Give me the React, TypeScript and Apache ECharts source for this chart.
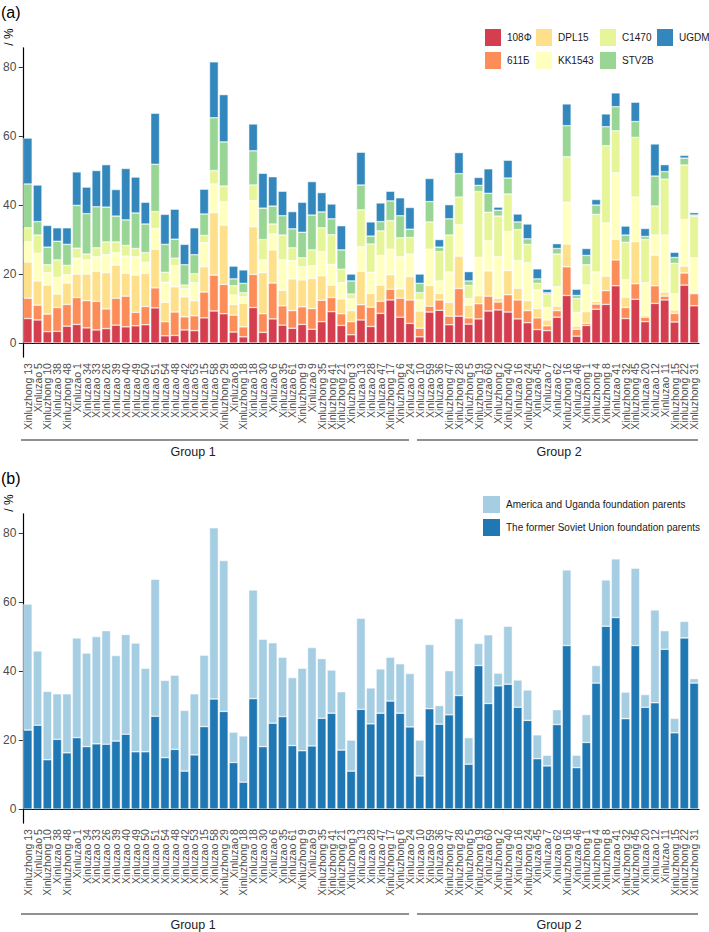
import React, { useEffect, useRef } from "react";
import * as echarts from "echarts";

const categories = [
  "Xinluzhong 13", "Xinluzao 5", "Xinluzhong 10", "Xinluzao 38", "Xinluzhong 48", "Xinluzao 1", "Xinluzao 34", "Xinluzao 33", "Xinluzao 26", "Xinluzao 39",
  "Xinluzao 40", "Xinluzao 49", "Xinluzao 50", "Xinluzao 51", "Xinluzao 54", "Xinluzao 48", "Xinluzao 42", "Xinluzao 53", "Xinluzao 15", "Xinluzao 58",
  "Xinluzhong 29", "Xinluzao 8", "Xinluzhong 18", "Xinluzao 18", "Xinluzao 30", "Xinluzao 6", "Xinluzao 35", "Xinluzao 61", "Xinluzhong 9", "Xinluzao 9",
  "Xinluzhong 35", "Xinluzhong 41", "Xinluzhong 21", "Xinluzhong 3", "Xinluzao 13", "Xinluzao 28", "Xinluzao 47", "Xinluzhong 17", "Xinluzhong 6", "Xinluzao 24",
  "Xinluzao 10", "Xinluzao 59", "Xinluzao 36", "Xinluzhong 47", "Xinluzhong 28", "Xinluzhong 5", "Xinluzhong 19", "Xinluzao 60", "Xinluzhong 2", "Xinluzhong 40",
  "Xinluzao 16", "Xinluzhong 24", "Xinluzao 45", "Xinluzao 7", "Xinluzao 62", "Xinluzhong 16", "Xinluzao 46", "Xinluzhong 1", "Xinluzhong 4", "Xinluzhong 8",
  "Xinluzao 41", "Xinluzhong 32", "Xinluzhong 45", "Xinluzao 20", "Xinluzao 12", "Xinluzao 11", "Xinluzhong 15", "Xinluzhong 22", "Xinluzhong 31",
];

const s108 = [7.1,6.7,3.3,3.4,4.9,5.4,4.4,3.8,4.2,5.2, 4.7,5.0,5.3,10.2,2.1,2.2,3.8,3.6,7.3,9.3, 8.5,3.2,1.8,10.3,3.1,7.0,5.2,4.3,5.4,4.0, 6.2,9.1,5.1,2.4,6.7,4.8,8.6,12.5,7.5,5.7, 1.8,9.0,9.5,5.3,7.8,5.5,7.0,9.3,9.6,9.0, 7.0,5.9,3.9,3.6,7.5,13.8,2.0,5.1,9.8,11.2, 16.6,7.1,12.7,6.2,11.5,12.5,6.1,16.8,10.8];
const s611 = [5.9,4.3,5.1,6.9,6.3,7.8,7.9,8.3,5.7,7.8, 8.9,3.9,5.3,5.8,4.1,6.8,3.8,4.3,7.5,10.4, 8.5,4.9,2.9,9.6,5.4,10.4,5.6,5.1,5.1,6.0, 6.2,4.1,3.4,3.8,4.4,5.6,3.5,3.1,5.5,6.8, 2.5,1.7,3.0,2.5,8.0,1.8,4.4,4.3,2.3,5.0, 5.5,3.5,3.4,1.4,1.9,8.3,2.0,0.6,1.5,4.0, 7.5,3.2,4.5,1.3,5.1,1.1,2.5,3.5,3.5];
const sDPL15 = [10.5,7.0,8.4,3.9,6.2,6.8,7.7,8.7,10.5,9.6, 6.6,10.8,9.6,11.2,5.6,7.3,5.8,4.4,7.3,18.1, 17.2,3.1,6.8,13.8,11.9,9.6,4.5,9.2,7.8,8.7, 7.1,3.6,4.3,3.2,9.7,4.0,4.7,4.2,2.7,6.8, 5.0,6.0,1.9,4.0,9.4,3.7,2.3,7.3,1.1,7.0, 3.4,2.9,2.7,1.7,1.3,6.6,0.9,3.4,0.8,4.2, 6.0,3.0,12.2,0.5,8.9,1.2,1.0,2.0,0.3];
const sKK1543 = [5.8,8.0,3.6,4.8,2.4,4.6,4.1,4.2,5.2,3.6, 5.0,5.3,3.2,6.0,5.8,6.1,2.4,5.2,7.0,8.3, 6.7,2.7,1.9,7.6,3.7,4.6,8.8,5.3,3.8,3.7, 7.0,6.0,4.7,3.4,7.1,6.1,8.6,7.4,9.3,6.5, 3.2,10.5,3.6,8.8,9.1,1.9,11.1,8.7,12.0,11.3, 8.0,11.0,5.4,3.6,5.6,12.1,4.0,7.7,8.5,15.4, 19.3,5.0,12.9,9.5,5.8,16.5,4.7,13.5,10.1];
const sC1470 = [4.1,5.3,2.3,5.1,2.7,2.9,1.7,2.6,3.7,3.1, 3.1,2.4,2.8,4.9,2.9,2.2,1.0,2.6,2.1,3.9, 4.6,2.7,1.2,4.5,5.9,2.9,7.2,3.7,2.6,4.6, 6.9,8.6,3.9,1.4,10.7,8.2,7.1,8.3,5.5,4.8, 2.1,7.9,8.5,10.7,8.0,3.8,19.1,8.3,11.8,10.9, 9.0,5.3,1.9,3.9,9.5,13.2,4.0,5.9,16.7,22.4, 12.1,10.9,17.3,12.5,8.4,16.2,8.8,15.8,12.1];
const sSTV2B = [12.7,3.9,5.1,5.4,6.1,12.4,11.7,11.9,10.1,7.5, 7.4,10.3,8.3,13.7,8.1,5.5,5.9,5.5,6.2,15.3, 12.8,2.0,2.7,9.9,9.1,5.2,5.6,5.5,7.4,10.1, 4.6,4.6,5.6,3.8,7.2,2.3,2.7,5.7,6.4,2.4, 2.7,5.9,1.3,4.7,6.8,1.3,1.8,5.5,1.7,4.6, 2.2,1.6,1.3,0.4,1.6,9.0,0.9,2.7,2.7,5.5, 7.0,2.1,4.6,0.9,8.7,2.2,1.7,2.0,0.3];
const sUGDM = [13.3,10.6,6.3,3.9,4.8,9.7,7.7,10.5,12.3,7.7, 14.9,10.4,6.3,14.8,8.7,8.7,5.9,7.8,7.2,16.2, 13.7,3.7,3.9,7.8,10.1,8.5,7.1,5.0,8.7,9.7, 5.6,4.3,7.0,2.0,9.5,4.1,5.4,2.8,5.2,6.3, 2.7,6.7,2.2,4.1,6.1,2.7,2.3,7.1,0.9,5.2, 2.3,4.3,2.9,1.0,1.4,6.3,1.8,2.0,1.6,3.7, 4.0,2.6,5.6,2.3,9.3,2.0,1.5,0.8,0.7];

const yTicks = [0, 20, 40, 60, 80];
const groupNames = ["Group 1", "Group 2"];

const FONT = "'Liberation Sans', Arial, Helvetica, sans-serif";

export default function App() {
  const ref = useRef<HTMLDivElement>(null);
  useEffect(() => {
    document.body.style.margin = "0";
    const chart = echarts.init(ref.current!, null, { renderer: "svg" });

    const r1 = (v: number) => Math.round(v * 10) / 10;
    const soviet = s108.map((v, i) => r1(v + s611[i] + sKK1543[i] + sC1470[i]));
    const america = sDPL15.map((v, i) => r1(v + sSTV2B[i] + sUGDM[i]));

    const aSeries = [
      { name: "108Φ", data: s108, color: "#D53E4F" },
      { name: "611Б", data: s611, color: "#FC8D59" },
      { name: "DPL15", data: sDPL15, color: "#FEE08B" },
      { name: "KK1543", data: sKK1543, color: "#FFFFBF" },
      { name: "C1470", data: sC1470, color: "#E6F598" },
      { name: "STV2B", data: sSTV2B, color: "#99D594" },
      { name: "UGDM", data: sUGDM, color: "#3288BD" },
    ];
    const bSeries = [
      { name: "The former Soviet Union foundation parents", data: soviet, color: "#1F78B4" },
      { name: "America and Uganda foundation parents", data: america, color: "#A6CEE3" },
    ];

    const xAxisBase = (gi: number) => ({
      type: "category",
      gridIndex: gi,
      data: categories,
      axisLine: { lineStyle: { color: "#000", width: 1.2 } },
      axisTick: { alignWithLabel: true, length: 4, lineStyle: { color: "#333" } },
      axisLabel: { interval: 0, rotate: 90, fontSize: 10.5, color: "#4d4d4d", margin: 6, fontFamily: FONT },
    });
    const yAxisBase = (gi: number) => ({
      type: "value",
      gridIndex: gi,
      min: -4.07,
      max: 85.57,
      axisLine: { show: true, lineStyle: { color: "#000", width: 1.2 } },
      axisTick: { show: true, length: 4, customValues: yTicks, lineStyle: { color: "#333" } },
      axisLabel: { customValues: yTicks, fontSize: 12, color: "#4d4d4d", margin: 6.5, fontFamily: FONT },
      splitLine: { show: false },
    });

    const legendBase = {
      orient: "vertical",
      itemWidth: 18,
      itemHeight: 19,
      itemGap: 2,
      padding: 0,
      icon: "rect",
      textStyle: { fontSize: 10, color: "#1a1a1a", fontFamily: FONT },
    };

    const groupGraphics = (lineY: number, textY: number) => [
      { type: "line", shape: { x1: 21, y1: lineY, x2: 409, y2: lineY }, style: { stroke: "#222", lineWidth: 1 } },
      { type: "line", shape: { x1: 417, y1: lineY, x2: 698, y2: lineY }, style: { stroke: "#222", lineWidth: 1 } },
      { type: "text", x: 193, y: textY, style: { text: groupNames[0], fontSize: 12.5, fill: "#222", fontFamily: FONT, textAlign: "center", textVerticalAlign: "middle" } },
      { type: "text", x: 559, y: textY, style: { text: groupNames[1], fontSize: 12.5, fill: "#222", fontFamily: FONT, textAlign: "center", textVerticalAlign: "middle" } },
    ];

    const option: any = {
      animation: false,
      backgroundColor: "#fff",
      grid: [
        { left: 21.5, top: 47.8, width: 677.5, height: 309.3, containLabel: false },
        { left: 21.5, top: 513.8, width: 677.5, height: 309.3, containLabel: false },
      ],
      xAxis: [xAxisBase(0), xAxisBase(1)],
      yAxis: [yAxisBase(0), yAxisBase(1)],
      legend: [
        { ...legendBase, left: 483, top: 27, data: ["108Φ", "611Б"] },
        { ...legendBase, left: 534, top: 27, data: ["DPL15", "KK1543"] },
        { ...legendBase, left: 598, top: 27, data: ["C1470", "STV2B"] },
        { ...legendBase, left: 655, top: 27, data: ["UGDM"] },
        { ...legendBase, itemWidth: 19, left: 481, top: 494, data: ["America and Uganda foundation parents", "The former Soviet Union foundation parents"] },
      ],
      series: [
        ...aSeries.map((s) => ({
          name: s.name,
          type: "bar",
          stack: "a",
          xAxisIndex: 0,
          yAxisIndex: 0,
          data: s.data,
          barCategoryGap: "10%",
          itemStyle: { color: s.color, borderColor: "#fff", borderWidth: 0.5 },
        })),
        ...bSeries.map((s) => ({
          name: s.name,
          type: "bar",
          stack: "b",
          xAxisIndex: 1,
          yAxisIndex: 1,
          data: s.data,
          barCategoryGap: "10%",
          itemStyle: { color: s.color, borderColor: "#fff", borderWidth: 0.5 },
        })),
      ],
      graphic: [
        { type: "text", x: 1, y: 12, style: { text: "(a)", fontSize: 16, fill: "#000", fontFamily: FONT, textVerticalAlign: "middle" } },
        { type: "text", x: 1, y: 478, style: { text: "(b)", fontSize: 16, fill: "#000", fontFamily: FONT, textVerticalAlign: "middle" } },
        { type: "text", x: 9, y: 37, rotation: Math.PI / 2, style: { text: "/ %", fontSize: 12, fill: "#000", fontFamily: FONT, textAlign: "center", textVerticalAlign: "middle" } },
        { type: "text", x: 9, y: 503, rotation: Math.PI / 2, style: { text: "/ %", fontSize: 12, fill: "#000", fontFamily: FONT, textAlign: "center", textVerticalAlign: "middle" } },
        ...groupGraphics(440, 452),
        ...groupGraphics(914, 925),
      ],
    };

    chart.setOption(option);
    return () => chart.dispose();
  }, []);
  return <div ref={ref} style={{ width: 709, height: 932 }} />;
}
